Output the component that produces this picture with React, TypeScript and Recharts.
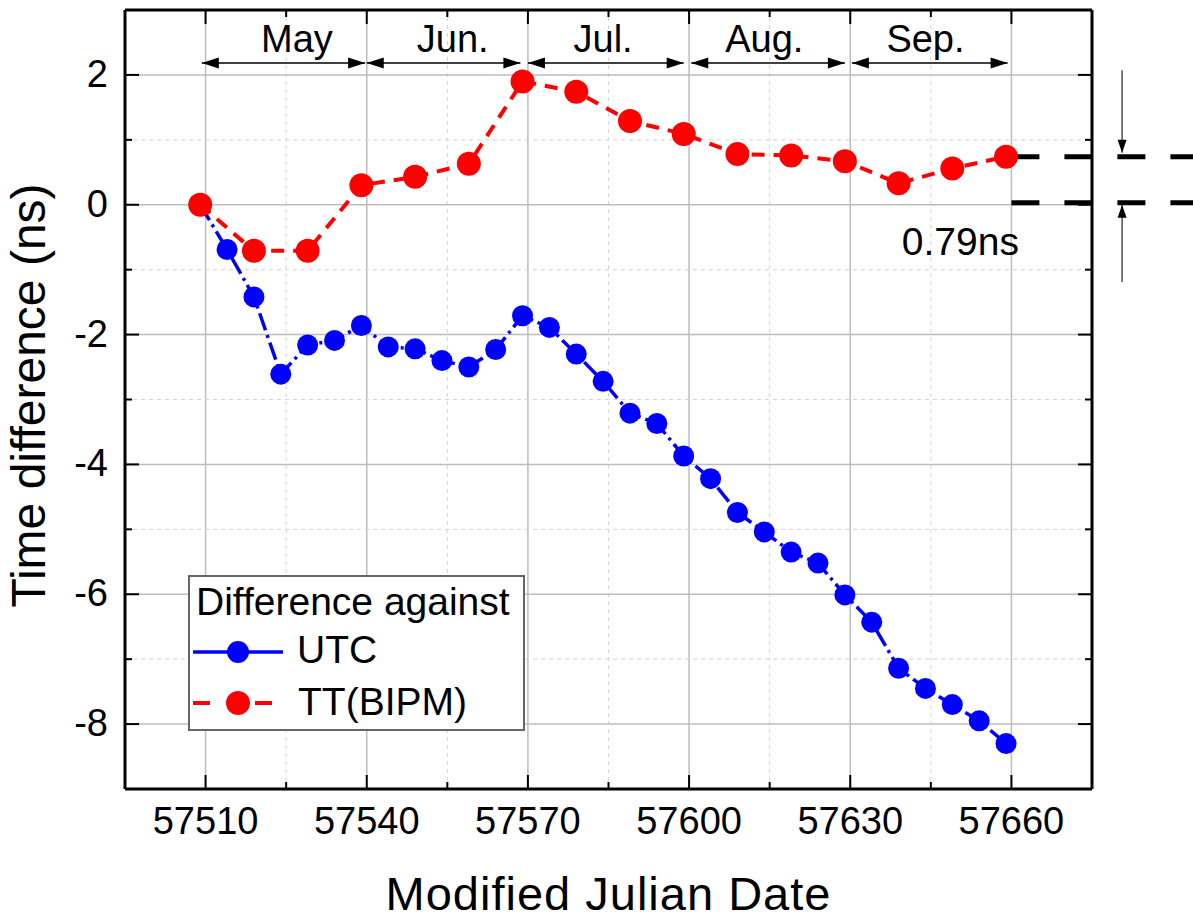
import {
  LineChart,
  Line,
  XAxis,
  YAxis,
  ReferenceLine,
  ReferenceDot,
  Legend,
  Label,
} from "recharts";

const FONT = "'Liberation Sans', Arial, sans-serif";
const BLUE = "#0000ff";
const RED = "#ff0000";

// UTC comparison, every 5 days
const utcDays = [
  57509, 57514, 57519, 57524, 57529, 57534, 57539, 57544, 57549, 57554, 57559,
  57564, 57569, 57574, 57579, 57584, 57589, 57594, 57599, 57604, 57609, 57614,
  57619, 57624, 57629, 57634, 57639, 57644, 57649, 57654, 57659,
];
const utcValues = [
  0, -0.69, -1.42, -2.61, -2.16, -2.09, -1.86, -2.19, -2.22, -2.4, -2.5, -2.23,
  -1.71, -1.89, -2.3, -2.72, -3.21, -3.37, -3.87, -4.22, -4.74, -5.04, -5.35,
  -5.52, -6.01, -6.43, -7.14, -7.45, -7.7, -7.95, -8.3,
];

// TT(BIPM) comparison, every 10 days
const ttDays = [
  57509, 57519, 57529, 57539, 57549, 57559, 57569, 57579, 57589, 57599, 57609,
  57619, 57629, 57639, 57649, 57659,
];
const ttValues = [
  0, -0.71, -0.71, 0.3, 0.43, 0.63, 1.9, 1.74, 1.29, 1.09, 0.78, 0.76, 0.67,
  0.33, 0.56, 0.74,
];

const xMajorTicks = [57510, 57540, 57570, 57600, 57630, 57660];
const xMinorTicks = [57495, 57525, 57555, 57585, 57615, 57645, 57675];
const yMajorTicks = [-8, -6, -4, -2, 0, 2];
const yMinorTicks = [-9, -7, -5, -3, -1, 1, 3];

const months = ["May", "Jun.", "Jul.", "Aug.", "Sep."];
const monthStarts = [57509.3, 57540, 57570, 57600.4, 57630.3];
const monthEnds = [57539.7, 57568.6, 57599, 57629, 57659.3];
const monthLabelX = [57527, 57556, 57584, 57614, 57644];
const monthArrowY = 2.185;
const monthLabelY = 2.355;

// offset annotation on the right
const offsetLevels = [0.74, 0.03];
const offsetLineStart = 57660;
const offsetLineEnd = 57694;
const offsetArrowX = 57680.6;
const upperArrow = [2.07, 0.8];
const lowerArrow = [-1.19, 0.0];
const offsetText = "0.79ns";
const offsetTextPos = { x: 57650.5, y: -0.78 };

const utcData = utcDays.map((d, i) => ({ day: d, value: utcValues[i] }));
const ttData = ttDays.map((d, i) => ({ day: d, value: ttValues[i] }));
const xTicks = [...xMajorTicks, ...xMinorTicks].sort((a, b) => a - b);
const yTicks = [...yMajorTicks, ...yMinorTicks].sort((a, b) => a - b);

const MAJOR_LEN = 14;
const MINOR_LEN = 7;

function BottomTick(props: any) {
  const { x, y, payload } = props;
  const major = xMajorTicks.includes(payload.value);
  return (
    <g>
      <line x1={x} x2={x} y1={y} y2={y - (major ? MAJOR_LEN : MINOR_LEN)} stroke="#000" strokeWidth={2} />
      {major && (
        <text x={x} y={y + 45} textAnchor="middle" fontSize={38} fontFamily={FONT} fill="#000">
          {payload.value}
        </text>
      )}
    </g>
  );
}

function TopTick(props: any) {
  const { x, y, payload } = props;
  const major = xMajorTicks.includes(payload.value);
  return <line x1={x} x2={x} y1={y} y2={y + (major ? MAJOR_LEN : MINOR_LEN)} stroke="#000" strokeWidth={2} />;
}

function LeftTick(props: any) {
  const { x, y, payload } = props;
  const major = yMajorTicks.includes(payload.value);
  return (
    <g>
      <line x1={x} x2={x + (major ? MAJOR_LEN : MINOR_LEN)} y1={y} y2={y} stroke="#000" strokeWidth={2} />
      {major && (
        <text x={x - 17} y={y + 12} textAnchor="end" fontSize={38} fontFamily={FONT} fill="#000">
          {payload.value}
        </text>
      )}
    </g>
  );
}

function RightTick(props: any) {
  const { x, y, payload } = props;
  const major = yMajorTicks.includes(payload.value);
  return <line x1={x} x2={x - (major ? MAJOR_LEN : MINOR_LEN)} y1={y} y2={y} stroke="#000" strokeWidth={2} />;
}

function DoubleArrow(props: any) {
  const { x1, y1, x2, y2 } = props;
  const h = 17;
  const w = 5.5;
  return (
    <g>
      <line x1={x1} y1={y1} x2={x2} y2={y2} stroke="#000" strokeWidth={1.5} />
      <polygon points={`${x1},${y1} ${x1 + h},${y1 - w} ${x1 + h},${y1 + w}`} fill="#000" />
      <polygon points={`${x2},${y2} ${x2 - h},${y2 - w} ${x2 - h},${y2 + w}`} fill="#000" />
    </g>
  );
}

function SingleArrow(props: any) {
  const { x1, y1, x2, y2 } = props;
  const dir = y2 > y1 ? 1 : -1;
  const h = 13;
  const w = 4.5;
  return (
    <g>
      <line x1={x1} y1={y1} x2={x2} y2={y2} stroke="#333" strokeWidth={1.3} />
      <polygon points={`${x2},${y2} ${x2 - w},${y2 - dir * h} ${x2 + w},${y2 - dir * h}`} fill="#000" />
    </g>
  );
}

function TextMark(text: string, size: number) {
  return (props: any) => (
    <text x={props.cx} y={props.cy} textAnchor="middle" fontSize={size} fontFamily={FONT} fill="#000">
      {text}
    </text>
  );
}

function LegendBox() {
  return (
    <div
      style={{
        width: 337,
        height: 156,
        boxSizing: "border-box",
        border: "2px solid #666",
        background: "#fff",
      }}
    >
      <svg width={333} height={152} style={{ display: "block" }}>
        <text x={6} y={38} fontSize={39} fontFamily={FONT} fill="#000">
          Difference against
        </text>
        <line x1={3} x2={93} y1={75} y2={75} stroke={BLUE} strokeWidth={3.5} />
        <circle cx={48} cy={75} r={11} fill={BLUE} />
        <text x={107} y={86} fontSize={39} fontFamily={FONT} fill="#000">
          UTC
        </text>
        <line x1={3} x2={20} y1={126} y2={126} stroke={RED} strokeWidth={4} />
        <line x1={65} x2={82} y1={126} y2={126} stroke={RED} strokeWidth={4} />
        <circle cx={48} cy={126} r={12} fill={RED} />
        <text x={108} y={138} fontSize={39} fontFamily={FONT} fill="#000">
          TT(BIPM)
        </text>
      </svg>
    </div>
  );
}

export default function App() {
  const xGridMajor = xMajorTicks;
  const xGridMinor = xMinorTicks.filter((v) => v > 57495 && v < 57675);
  const yGridMajor = yMajorTicks;
  const yGridMinor = yMinorTicks.filter((v) => v > -9 && v < 3);

  return (
    <div style={{ position: "absolute", left: 0, top: 0, background: "#fff" }}>
      <LineChart width={1193} height={919} margin={{ top: 9, right: 100, bottom: 0, left: 0 }}>
        <XAxis
          dataKey="day"
          type="number"
          domain={[57495, 57675]}
          allowDataOverflow
          ticks={xTicks}
          interval={0}
          height={130}
          tickSize={0}
          tickMargin={0}
          tickLine={false}
          tick={<BottomTick />}
          axisLine={{ stroke: "#000", strokeWidth: 3 }}
        >
          <Label
            content={(p: any) => (
              <text
                x={p.viewBox.x + p.viewBox.width / 2}
                y={p.viewBox.y + 121}
                textAnchor="middle"
                fontSize={47}
                letterSpacing={1}
                fontFamily={FONT}
                fill="#000"
              >
                Modified Julian Date
              </text>
            )}
          />
        </XAxis>
        <XAxis
          xAxisId="top"
          orientation="top"
          dataKey="day"
          type="number"
          domain={[57495, 57675]}
          allowDataOverflow
          ticks={xTicks}
          interval={0}
          height={1}
          tickSize={0}
          tickMargin={0}
          tickLine={false}
          tick={<TopTick />}
          axisLine={{ stroke: "#000", strokeWidth: 3 }}
        />
        <YAxis
          type="number"
          domain={[-9, 3]}
          allowDataOverflow
          ticks={yTicks}
          interval={0}
          width={125}
          tickSize={0}
          tickMargin={0}
          tickLine={false}
          tick={<LeftTick />}
          axisLine={{ stroke: "#000", strokeWidth: 3 }}
        >
          <Label
            content={(p: any) => {
              const cx = 45;
              const cy = p.viewBox.y + p.viewBox.height / 2 - 4;
              return (
                <text
                  x={cx}
                  y={cy}
                  transform={`rotate(-90, ${cx}, ${cy})`}
                  textAnchor="middle"
                  fontSize={48}
                  fontFamily={FONT}
                  fill="#000"
                >
                  Time difference (ns)
                </text>
              );
            }}
          />
        </YAxis>
        <YAxis
          yAxisId="right"
          orientation="right"
          type="number"
          domain={[-9, 3]}
          allowDataOverflow
          ticks={yTicks}
          interval={0}
          width={1}
          tickSize={0}
          tickMargin={0}
          tickLine={false}
          tick={<RightTick />}
          axisLine={{ stroke: "#000", strokeWidth: 3 }}
        />

        {xGridMajor.map((v) => (
          <ReferenceLine key={`xg${v}`} x={v} stroke="#bdbdbd" strokeWidth={1.5} />
        ))}
        {xGridMinor.map((v) => (
          <ReferenceLine key={`xm${v}`} x={v} stroke="#d4d4d4" strokeWidth={1} strokeDasharray="4 4" />
        ))}
        {yGridMajor.map((v) => (
          <ReferenceLine key={`yg${v}`} y={v} stroke="#bdbdbd" strokeWidth={1.5} />
        ))}
        {yGridMinor.map((v) => (
          <ReferenceLine key={`ym${v}`} y={v} stroke="#d4d4d4" strokeWidth={1} strokeDasharray="4 4" />
        ))}

        {/* invisible series so the frame axes on top/right get drawn */}
        <Line
          data={ttData}
          dataKey="value"
          xAxisId="top"
          yAxisId="right"
          stroke="none"
          dot={false}
          activeDot={false}
          legendType="none"
          isAnimationActive={false}
        />
        <Line
          data={utcData}
          dataKey="value"
          name="UTC"
          stroke={BLUE}
          strokeWidth={3.5}
          strokeDasharray="18 5 3 5"
          dot={{ r: 10.5, fill: BLUE, stroke: "none" }}
          isAnimationActive={false}
        />
        <Line
          data={ttData}
          dataKey="value"
          name="TT(BIPM)"
          stroke={RED}
          strokeWidth={4}
          strokeDasharray="13 9"
          dot={{ r: 12, fill: RED, stroke: "none" }}
          isAnimationActive={false}
        />

        {months.map((m, i) => (
          <ReferenceLine
            key={`ma${m}`}
            segment={[
              { x: monthStarts[i], y: monthArrowY },
              { x: monthEnds[i], y: monthArrowY },
            ]}
            ifOverflow="visible"
            shape={<DoubleArrow />}
          />
        ))}
        {months.map((m, i) => (
          <ReferenceDot
            key={`ml${m}`}
            x={monthLabelX[i]}
            y={monthLabelY}
            r={1}
            ifOverflow="visible"
            shape={TextMark(m, 38)}
          />
        ))}

        {offsetLevels.map((v) => (
          <ReferenceLine
            key={`ol${v}`}
            segment={[
              { x: offsetLineStart, y: v },
              { x: offsetLineEnd, y: v },
            ]}
            ifOverflow="visible"
            stroke="#000"
            strokeWidth={5}
            strokeDasharray="28 25"
          />
        ))}
        <ReferenceLine
          segment={[
            { x: offsetArrowX, y: upperArrow[0] },
            { x: offsetArrowX, y: upperArrow[1] },
          ]}
          ifOverflow="visible"
          shape={<SingleArrow />}
        />
        <ReferenceLine
          segment={[
            { x: offsetArrowX, y: lowerArrow[0] },
            { x: offsetArrowX, y: lowerArrow[1] },
          ]}
          ifOverflow="visible"
          shape={<SingleArrow />}
        />
        <ReferenceDot
          x={offsetTextPos.x}
          y={offsetTextPos.y}
          r={1}
          ifOverflow="visible"
          shape={TextMark(offsetText, 39)}
        />

        <Legend
          layout="horizontal"
          verticalAlign="middle"
          align="center"
          content={() => <LegendBox />}
          wrapperStyle={{ position: "absolute", left: 188, top: 575, width: 337, height: 156 }}
        />
      </LineChart>
    </div>
  );
}
